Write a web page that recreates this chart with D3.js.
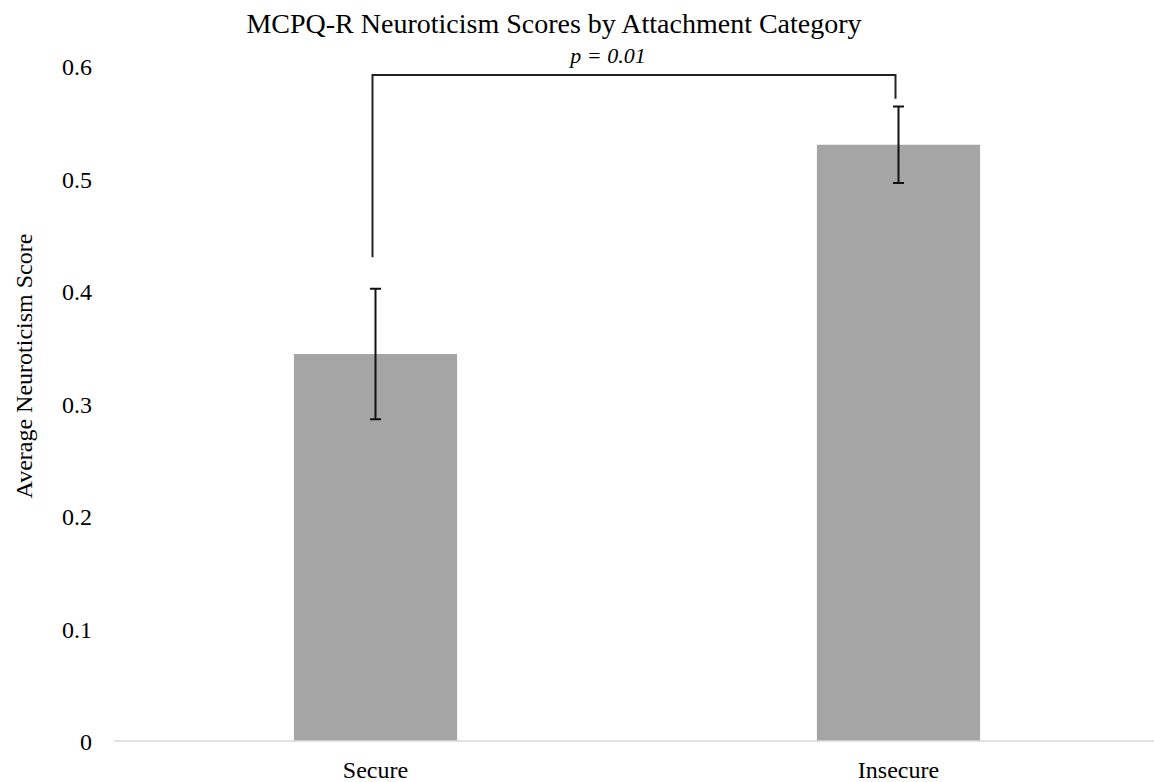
<!DOCTYPE html>
<html>
<head>
<meta charset="utf-8">
<script src="https://cdn.jsdelivr.net/npm/d3@7"></script>
<style>
    body { margin: 0; background: #fff; }
    text { font-family: "Liberation Serif", "Times New Roman", serif; fill: #000; }
</style>
</head>
<body>
<div id="chart"></div>
<script>
// chart values
var categories = ["Secure", "Insecure"];
var means = [0.344, 0.530];
var errors = [0.058, 0.034];
var yTicks = [0, 0.1, 0.2, 0.3, 0.4, 0.5, 0.6];

// significance bracket (in score units)
var sigLabel = "p = 0.01";
var sigTop = 0.592;
var sigEnds = [0.430, 0.571];

var titleText = "MCPQ-R Neuroticism Scores by Attachment Category";
var yTitleText = "Average Neuroticism Score";

var width = 1154;
var height = 782;

var svg = d3.select("#chart").append("svg")
    .attr("width", width)
    .attr("height", height);

var xScale = d3.scaleBand()
    .domain(categories)
    .range([114, 1160])
    .paddingInner(0.688)
    .paddingOuter(0.344);

var yScale = d3.scaleLinear()
    .domain([0, 0.6])
    .range([741, 66]);

var cx = function(c) { return xScale(c) + xScale.bandwidth() / 2; };

// y tick labels (no axis line, no gridlines)
var yAxis = d3.axisLeft(yScale)
    .tickValues(yTicks)
    .tickSize(0)
    .tickPadding(0)
    .tickFormat(function(d) { return d === 0 ? "0" : d3.format(".1f")(d); });

var yAxisG = svg.append("g")
    .attr("transform", "translate(92,0)")
    .call(yAxis);
yAxisG.select(".domain").remove();
yAxisG.selectAll("text")
    .attr("x", 0)
    .attr("dy", "0.36em")
    .style("font-family", "'Liberation Serif', serif")
    .style("font-size", "24px")
    .attr("fill", "#000");

// bars
svg.append("g").selectAll("rect")
    .data(categories)
    .enter().append("rect")
    .attr("x", function(d) { return xScale(d); })
    .attr("width", xScale.bandwidth())
    .attr("y", function(d, i) { return yScale(means[i]); })
    .attr("height", function(d, i) { return yScale(0) - yScale(means[i]); })
    .attr("fill", "#a5a5a5");

// x baseline
svg.append("line")
    .attr("x1", 114).attr("x2", width)
    .attr("y1", yScale(0)).attr("y2", yScale(0))
    .attr("stroke", "#d9d9d9")
    .attr("stroke-width", 1.5);

// x category labels
var xAxis = d3.axisBottom(xScale).tickSize(0).tickPadding(0);
var xAxisG = svg.append("g")
    .attr("transform", "translate(0," + yScale(0) + ")")
    .call(xAxis);
xAxisG.select(".domain").remove();
xAxisG.selectAll("text")
    .attr("y", 37)
    .attr("dy", 0)
    .style("font-family", "'Liberation Serif', serif")
    .style("font-size", "24px")
    .attr("fill", "#000");

// error bars
var errG = svg.append("g").attr("stroke", "#111").attr("stroke-width", 2);
categories.forEach(function(c, i) {
    var x = cx(c);
    var top = yScale(means[i] + errors[i]);
    var bot = yScale(means[i] - errors[i]);
    errG.append("line").attr("x1", x).attr("x2", x).attr("y1", top).attr("y2", bot);
    errG.append("line").attr("x1", x - 5.5).attr("x2", x + 5.5).attr("y1", top).attr("y2", top);
    errG.append("line").attr("x1", x - 5.5).attr("x2", x + 5.5).attr("y1", bot).attr("y2", bot);
});

// significance bracket
var bx0 = cx(categories[0]) - 3;
var bx1 = cx(categories[1]) - 3;
svg.append("path")
    .attr("d", "M" + bx0 + "," + yScale(sigEnds[0]) +
               "V" + yScale(sigTop) +
               "H" + bx1 +
               "V" + yScale(sigEnds[1]))
    .attr("fill", "none")
    .attr("stroke", "#222")
    .attr("stroke-width", 2);

svg.append("text")
    .attr("x", 608)
    .attr("y", 63)
    .attr("text-anchor", "middle")
    .style("font-size", "22px")
    .style("font-style", "italic")
    .text(sigLabel);

// title
svg.append("text")
    .attr("x", 554)
    .attr("y", 33)
    .attr("text-anchor", "middle")
    .style("font-size", "28px")
    .text(titleText);

// y axis title
svg.append("text")
    .attr("transform", "translate(32,366) rotate(-90)")
    .attr("text-anchor", "middle")
    .style("font-size", "24px")
    .text(yTitleText);
</script>
</body>
</html>
